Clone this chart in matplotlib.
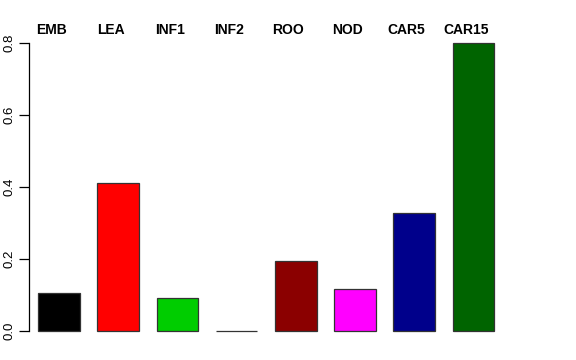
import matplotlib
matplotlib.use("Agg")
import matplotlib.pyplot as plt
import numpy as np

categories = ["EMB", "LEA", "INF1", "INF2", "ROO", "NOD", "CAR5", "CAR15"]
values = [0.106, 0.411, 0.092, 0.001, 0.194, 0.117, 0.328, 0.800]
colors = ["#000000", "#FF0000", "#00CD00", "#0000FF", "#8B0000", "#FF00FF", "#00008B", "#006400"]
yticks = [0.0, 0.2, 0.4, 0.6, 0.8]

plt.rcParams["font.family"] = ["Liberation Sans", "DejaVu Sans"]

W, H = 576, 360
fig = plt.figure(figsize=(W / 100, H / 100), dpi=100)
# plot region in pixels: left 29, right ~503, top 31.5, bottom 342.5
ax = fig.add_axes([29 / W, (H - 342.5) / H, (503 - 29) / W, (342.5 - 31.5) / H])

x = np.arange(len(categories))
ax.bar(x, values, width=0.70, color=colors, edgecolor="#333333", linewidth=0.9)
ax.set_xlim(-0.507, 7.5)
ax.set_ylim(-0.032, 0.832)

for s in ["top", "right", "bottom"]:
    ax.spines[s].set_visible(False)
ax.spines["left"].set_bounds(0, 0.8)
ax.spines["left"].set_linewidth(0.9)
ax.set_xticks([])
ax.set_yticks(yticks)
ax.set_yticklabels([f"{v:.1f}" for v in yticks], rotation=90, va="center", fontsize=9.5)
ax.tick_params(axis="y", length=7, width=0.9, pad=3)

# labels sit a little left of bar centres, as in the original
for xi, lab in zip(x, categories):
    ax.text(xi - 0.13, 0.993, lab, transform=ax.get_xaxis_transform(), ha="center", va="baseline",
            fontsize=10, fontweight="bold")

fig.savefig("out.png", dpi=100)
